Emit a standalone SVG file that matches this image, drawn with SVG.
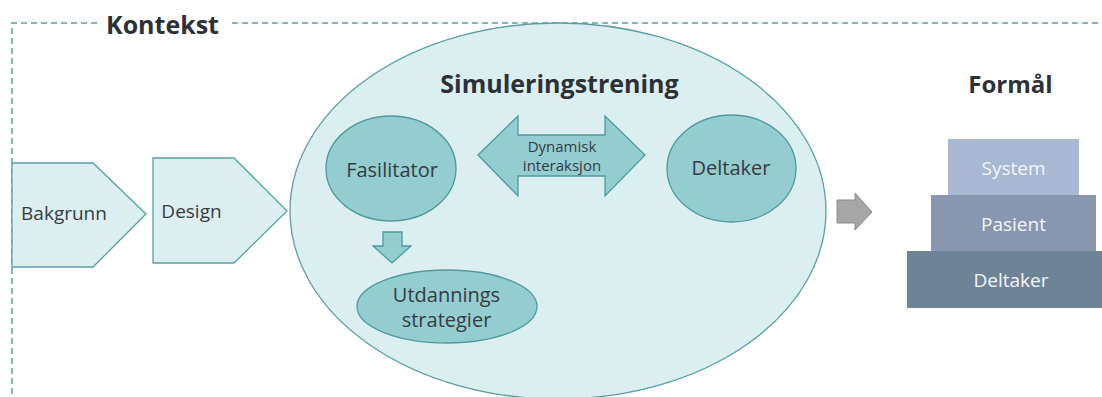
<svg xmlns="http://www.w3.org/2000/svg" width="1102" height="397" viewBox="0 0 1102 397">
  <defs>
    <style>
      .t { font-family: "Open Sans", "Liberation Sans", sans-serif; fill: #363c42; text-anchor: middle; }
      .title { font-weight: bold; fill: #2b3137; }
      .teal { fill: #93cdd0; stroke: #4f9a9d; stroke-width: 1.3; }
      .light { fill: #dbeef0; stroke: #5a9fa2; stroke-width: 1.3; }
      .box { stroke: none; }
      .wt { font-family: "Open Sans", "Liberation Sans", sans-serif; fill: #f3f5f8; text-anchor: middle; font-size: 19px; }
      .dash { fill: none; stroke: #5c9fa1; stroke-width: 1.5; stroke-dasharray: 6 4; }
    </style>
  </defs>
  <rect width="1102" height="397" fill="#ffffff"/>

  <g id="kontekst">
    <path class="dash" d="M 97 23 H 12 V 400"/>
    <path class="dash" d="M 232 23 H 1110"/>
    <text class="t title" x="162.5" y="34" font-size="25">Kontekst</text>
  </g>

  <g id="bakgrunn">
    <polygon class="light" points="12,163 93,163 146,214 93,267 12,267"/>
    <text class="t" x="64" y="220" font-size="19">Bakgrunn</text>
  </g>

  <g id="design">
    <polygon class="light" points="153,158 234,158 287,211 234,263 153,263"/>
    <text class="t" x="191.5" y="218" font-size="19">Design</text>
  </g>

  <g id="simuleringstrening">
    <ellipse class="light" cx="558" cy="211" rx="268" ry="188"/>
    <text class="t title" x="559.5" y="93" font-size="25">Simuleringstrening</text>
  </g>

  <g id="fasilitator">
    <ellipse class="teal" cx="391" cy="168.5" rx="65" ry="52.5"/>
    <text class="t" x="392" y="177" font-size="20">Fasilitator</text>
  </g>

  <g id="deltaker">
    <ellipse class="teal" cx="731.5" cy="168.5" rx="64.5" ry="53.5"/>
    <text class="t" x="731" y="175" font-size="20">Deltaker</text>
  </g>

  <g id="utdanningsstrategier">
    <ellipse class="teal" cx="447" cy="306.5" rx="90" ry="36.5"/>
    <text class="t" x="446.5" y="302" font-size="20">Utdannings</text>
    <text class="t" x="446.5" y="327" font-size="20">strategier</text>
  </g>

  <g id="connectors">
    <g id="dynamisk-interaksjon">
      <polygon class="teal" points="478,155 518,116 518,135 605,135 605,116 645,155 605,196 605,176 518,176 518,196"/>
      <text class="t" x="562" y="152" font-size="15">Dynamisk</text>
      <text class="t" x="562" y="171" font-size="15">interaksjon</text>
    </g>
    <polygon id="ned-pil" class="teal" points="383,232 402,232 402,246 411,246 392,263 373,246 383,246"/>
    <polygon id="formaal-pil" fill="#a6a6a6" stroke="#8a8a8a" stroke-width="1" points="837,200 855,200 855,193 872,212 855,230 855,223 837,223"/>
  </g>

  <g id="formaal">
    <text class="t title" x="1010.5" y="93" font-size="24">Formål</text>
    <g id="system">
      <rect class="box" x="948" y="139" width="131" height="56" fill="#a8b7d2"/>
      <text class="wt" x="1013.5" y="175">System</text>
    </g>
    <g id="pasient">
      <rect class="box" x="931" y="195" width="165" height="56" fill="#8897af"/>
      <text class="wt" x="1013.5" y="231">Pasient</text>
    </g>
    <g id="deltaker-formaal">
      <rect class="box" x="907" y="251" width="210" height="57" fill="#6f8397"/>
      <text class="wt" x="1011" y="287">Deltaker</text>
    </g>
  </g>
</svg>
